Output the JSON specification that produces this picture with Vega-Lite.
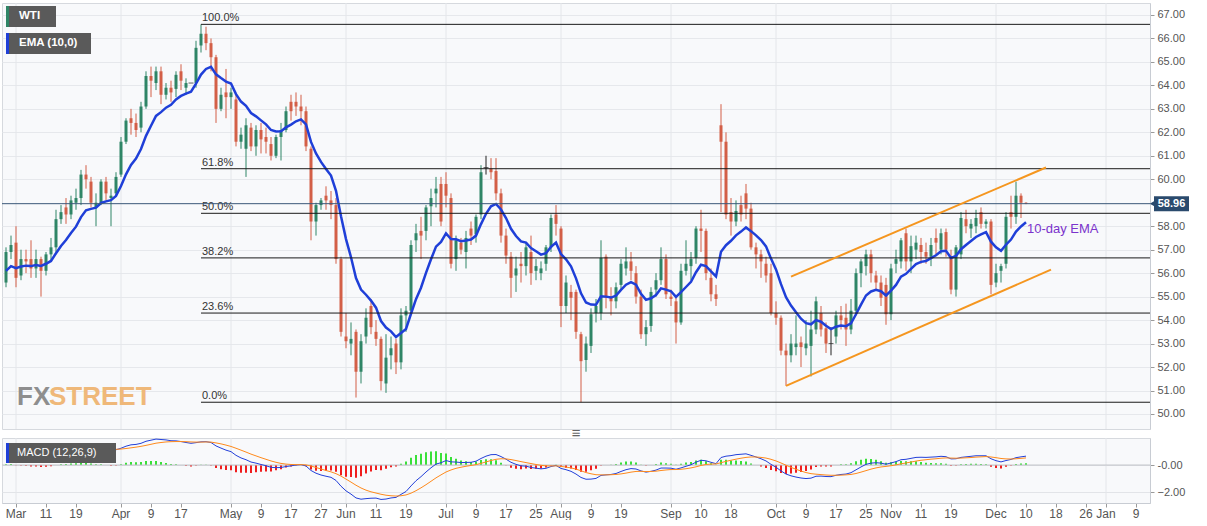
{
"$schema":"https://vega.github.io/schema/vega-lite/v6.json",
"padding":{"top":2,"left":0,"right":0,"bottom":0},
"background":"#ffffff",
"spacing":9,
"bounds":"flush",
"config":{"font":"Liberation Sans","view":{"stroke":"#d6d9de","fill":"#f8f9fb"},"axis":{"labelFont":"Liberation Sans","labelOverlap":false}},
"datasets":{
"p":[
{"d":"2019-02-27","o":55.6,"h":57.1,"l":55.4,"c":56.9,"e":56.1,"m":1.1,"s":1.05,"hi":0.05},
{"d":"2019-02-28","o":56.9,"h":57.6,"l":56.6,"c":57.2,"e":56.3,"m":1.14,"s":1.07,"hi":0.07},
{"d":"2019-03-01","o":57.3,"h":58.0,"l":55.4,"c":55.8,"e":56.21,"m":1.05,"s":1.07,"hi":-0.02},
{"d":"2019-03-04","o":55.9,"h":57.0,"l":55.7,"c":56.6,"e":56.28,"m":1.03,"s":1.06,"hi":-0.03},
{"d":"2019-03-05","o":56.6,"h":57.0,"l":56.0,"c":56.5,"e":56.32,"m":0.99,"s":1.05,"hi":-0.06},
{"d":"2019-03-06","o":56.6,"h":57.4,"l":55.8,"c":56.2,"e":56.3,"m":0.93,"s":1.03,"hi":-0.1},
{"d":"2019-03-07","o":56.2,"h":57.0,"l":55.8,"c":56.6,"e":56.35,"m":0.9,"s":1.0,"hi":-0.1},
{"d":"2019-03-08","o":56.6,"h":56.7,"l":55.0,"c":56.1,"e":56.31,"m":0.83,"s":0.97,"hi":-0.14},
{"d":"2019-03-11","o":56.1,"h":56.9,"l":55.9,"c":56.8,"e":56.4,"m":0.82,"s":0.94,"hi":-0.12},
{"d":"2019-03-12","o":56.8,"h":57.5,"l":56.5,"c":57.1,"e":56.52,"m":0.83,"s":0.92,"hi":-0.09},
{"d":"2019-03-13","o":57.1,"h":58.7,"l":56.9,"c":58.3,"e":56.85,"m":0.92,"s":0.92,"hi":0},
{"d":"2019-03-14","o":58.3,"h":58.9,"l":58.1,"c":58.6,"e":57.16,"m":1.0,"s":0.94,"hi":0.06},
{"d":"2019-03-15","o":58.8,"h":59.2,"l":58.1,"c":58.5,"e":57.41,"m":1.04,"s":0.96,"hi":0.08},
{"d":"2019-03-18","o":58.5,"h":59.3,"l":58.3,"c":59.1,"e":57.71,"m":1.11,"s":0.99,"hi":0.12},
{"d":"2019-03-19","o":59.0,"h":59.6,"l":58.7,"c":59.2,"e":57.98,"m":1.16,"s":1.02,"hi":0.14},
{"d":"2019-03-20","o":59.2,"h":60.4,"l":58.9,"c":60.2,"e":58.39,"m":1.26,"s":1.07,"hi":0.19},
{"d":"2019-03-21","o":60.2,"h":60.6,"l":59.6,"c":60.0,"e":58.68,"m":1.32,"s":1.12,"hi":0.2},
{"d":"2019-03-22","o":59.9,"h":60.1,"l":58.8,"c":59.0,"e":58.74,"m":1.27,"s":1.15,"hi":0.12},
{"d":"2019-03-25","o":58.8,"h":59.4,"l":58.0,"c":59.0,"e":58.79,"m":1.21,"s":1.16,"hi":0.05},
{"d":"2019-03-26","o":59.0,"h":60.0,"l":58.9,"c":59.9,"e":58.99,"m":1.22,"s":1.17,"hi":0.05},
{"d":"2019-03-27","o":59.9,"h":60.1,"l":59.1,"c":59.4,"e":59.06,"m":1.17,"s":1.17,"hi":0},
{"d":"2019-03-28","o":59.2,"h":59.6,"l":58.0,"c":59.3,"e":59.11,"m":1.11,"s":1.16,"hi":-0.05},
{"d":"2019-03-29","o":59.4,"h":60.3,"l":59.3,"c":60.1,"e":59.29,"m":1.12,"s":1.15,"hi":-0.03},
{"d":"2019-04-01","o":60.2,"h":61.8,"l":60.1,"c":61.6,"e":59.71,"m":1.23,"s":1.17,"hi":0.06},
{"d":"2019-04-02","o":61.6,"h":62.6,"l":61.5,"c":62.5,"e":60.21,"m":1.38,"s":1.21,"hi":0.17},
{"d":"2019-04-03","o":62.6,"h":63.0,"l":61.9,"c":62.4,"e":60.61,"m":1.48,"s":1.26,"hi":0.22},
{"d":"2019-04-04","o":62.4,"h":62.8,"l":61.8,"c":62.1,"e":60.88,"m":1.51,"s":1.31,"hi":0.2},
{"d":"2019-04-05","o":62.2,"h":63.3,"l":62.0,"c":63.1,"e":61.29,"m":1.59,"s":1.37,"hi":0.22},
{"d":"2019-04-08","o":63.1,"h":64.6,"l":63.0,"c":64.4,"e":61.85,"m":1.74,"s":1.44,"hi":0.3},
{"d":"2019-04-09","o":64.4,"h":64.8,"l":63.5,"c":64.2,"e":62.28,"m":1.82,"s":1.52,"hi":0.3},
{"d":"2019-04-10","o":64.1,"h":64.8,"l":63.8,"c":64.6,"e":62.7,"m":1.9,"s":1.6,"hi":0.3},
{"d":"2019-04-11","o":64.6,"h":64.8,"l":63.2,"c":63.6,"e":62.86,"m":1.87,"s":1.65,"hi":0.22},
{"d":"2019-04-12","o":63.6,"h":64.1,"l":63.4,"c":63.9,"e":63.05,"m":1.84,"s":1.69,"hi":0.15},
{"d":"2019-04-15","o":63.9,"h":64.2,"l":63.3,"c":63.7,"e":63.17,"m":1.78,"s":1.71,"hi":0.07},
{"d":"2019-04-16","o":63.85,"h":64.6,"l":63.5,"c":64.45,"e":63.4,"m":1.77,"s":1.72,"hi":0.05},
{"d":"2019-04-17","o":64.6,"h":64.9,"l":63.8,"c":64.2,"e":63.55,"m":1.72,"s":1.72,"hi":0},
{"d":"2019-04-18","o":63.9,"h":64.3,"l":63.6,"c":64.1,"e":63.65,"m":1.65,"s":1.71,"hi":-0.06},
{"d":"2019-04-19","o":64.1,"h":64.1,"l":64.1,"c":64.1,"e":63.73,"m":1.59,"s":1.69,"hi":-0.1},
{"d":"2019-04-22","o":64.1,"h":65.9,"l":63.9,"c":65.6,"e":64.07,"m":1.64,"s":1.68,"hi":-0.04},
{"d":"2019-04-23","o":65.7,"h":66.6,"l":65.4,"c":66.2,"e":64.46,"m":1.7,"s":1.68,"hi":0.02},
{"d":"2019-04-24","o":66.2,"h":66.5,"l":65.5,"c":65.8,"e":64.7,"m":1.71,"s":1.69,"hi":0.02},
{"d":"2019-04-25","o":65.8,"h":66.0,"l":64.6,"c":65.2,"e":64.79,"m":1.65,"s":1.68,"hi":-0.03},
{"d":"2019-04-26","o":65.2,"h":65.3,"l":62.4,"c":63.0,"e":64.47,"m":1.4,"s":1.62,"hi":-0.22},
{"d":"2019-04-29","o":63.0,"h":63.9,"l":62.9,"c":63.6,"e":64.31,"m":1.24,"s":1.55,"hi":-0.31},
{"d":"2019-04-30","o":63.7,"h":64.7,"l":62.6,"c":63.5,"e":64.16,"m":1.09,"s":1.46,"hi":-0.37},
{"d":"2019-05-01","o":63.5,"h":63.9,"l":63.0,"c":63.7,"e":64.08,"m":0.98,"s":1.36,"hi":-0.38},
{"d":"2019-05-02","o":63.4,"h":63.6,"l":61.4,"c":61.6,"e":63.63,"m":0.71,"s":1.23,"hi":-0.52},
{"d":"2019-05-03","o":61.6,"h":62.2,"l":61.3,"c":61.9,"e":63.31,"m":0.52,"s":1.09,"hi":-0.57},
{"d":"2019-05-06","o":61.3,"h":62.6,"l":60.1,"c":62.3,"e":63.13,"m":0.39,"s":0.95,"hi":-0.56},
{"d":"2019-05-07","o":62.2,"h":62.4,"l":61.2,"c":61.4,"e":62.82,"m":0.22,"s":0.8,"hi":-0.58},
{"d":"2019-05-08","o":61.4,"h":62.3,"l":61.0,"c":62.1,"e":62.68,"m":0.14,"s":0.67,"hi":-0.53},
{"d":"2019-05-09","o":62.1,"h":62.4,"l":61.1,"c":61.7,"e":62.51,"m":0.04,"s":0.54,"hi":-0.5},
{"d":"2019-05-10","o":61.8,"h":62.2,"l":61.1,"c":61.6,"e":62.34,"m":-0.05,"s":0.42,"hi":-0.47},
{"d":"2019-05-13","o":61.5,"h":61.8,"l":60.8,"c":61.0,"e":62.1,"m":-0.17,"s":0.3,"hi":-0.47},
{"d":"2019-05-14","o":61.0,"h":61.9,"l":60.9,"c":61.8,"e":62.04,"m":-0.19,"s":0.2,"hi":-0.39},
{"d":"2019-05-15","o":61.8,"h":62.4,"l":60.8,"c":62.1,"e":62.05,"m":-0.18,"s":0.12,"hi":-0.3},
{"d":"2019-05-16","o":62.1,"h":63.1,"l":62.0,"c":62.9,"e":62.21,"m":-0.11,"s":0.07,"hi":-0.18},
{"d":"2019-05-17","o":63.3,"h":63.6,"l":62.5,"c":62.9,"e":62.33,"m":-0.06,"s":0.04,"hi":-0.1},
{"d":"2019-05-20","o":63.3,"h":63.7,"l":62.7,"c":63.1,"e":62.47,"m":0,"s":0.03,"hi":-0.03},
{"d":"2019-05-21","o":63.1,"h":63.6,"l":62.3,"c":62.9,"e":62.55,"m":0.03,"s":0.03,"hi":0},
{"d":"2019-05-22","o":62.9,"h":63.1,"l":61.2,"c":61.4,"e":62.34,"m":-0.07,"s":0.01,"hi":-0.08},
{"d":"2019-05-23","o":61.3,"h":61.4,"l":57.4,"c":58.2,"e":61.59,"m":-0.4,"s":-0.07,"hi":-0.33},
{"d":"2019-05-24","o":58.2,"h":59.0,"l":57.6,"c":58.9,"e":61.1,"m":-0.6,"s":-0.18,"hi":-0.42},
{"d":"2019-05-27","o":58.9,"h":59.2,"l":58.7,"c":59.1,"e":60.74,"m":-0.73,"s":-0.29,"hi":-0.44},
{"d":"2019-05-28","o":59.3,"h":59.7,"l":58.7,"c":59.1,"e":60.44,"m":-0.82,"s":-0.4,"hi":-0.42},
{"d":"2019-05-29","o":59.1,"h":59.5,"l":58.3,"c":58.9,"e":60.16,"m":-0.9,"s":-0.5,"hi":-0.4},
{"d":"2019-05-30","o":58.9,"h":59.2,"l":56.4,"c":56.6,"e":59.51,"m":-1.13,"s":-0.63,"hi":-0.5},
{"d":"2019-05-31","o":56.6,"h":56.7,"l":53.3,"c":53.5,"e":58.42,"m":-1.55,"s":-0.81,"hi":-0.74},
{"d":"2019-06-03","o":53.3,"h":54.3,"l":52.8,"c":53.1,"e":57.45,"m":-1.89,"s":-1.03,"hi":-0.86},
{"d":"2019-06-04","o":53.0,"h":53.9,"l":52.5,"c":53.2,"e":56.68,"m":-2.13,"s":-1.25,"hi":-0.88},
{"d":"2019-06-05","o":53.5,"h":53.6,"l":50.7,"c":51.8,"e":55.79,"m":-2.41,"s":-1.48,"hi":-0.93},
{"d":"2019-06-06","o":51.8,"h":53.4,"l":51.3,"c":53.1,"e":55.3,"m":-2.5,"s":-1.68,"hi":-0.82},
{"d":"2019-06-07","o":53.3,"h":54.5,"l":53.0,"c":54.1,"e":55.08,"m":-2.46,"s":-1.84,"hi":-0.62},
{"d":"2019-06-10","o":54.6,"h":54.9,"l":53.4,"c":53.7,"e":54.83,"m":-2.43,"s":-1.96,"hi":-0.47},
{"d":"2019-06-11","o":53.5,"h":54.0,"l":52.9,"c":53.2,"e":54.53,"m":-2.42,"s":-2.05,"hi":-0.37},
{"d":"2019-06-12","o":53.2,"h":53.3,"l":51.0,"c":51.4,"e":53.96,"m":-2.52,"s":-2.14,"hi":-0.38},
{"d":"2019-06-13","o":51.3,"h":53.4,"l":50.9,"c":52.4,"e":53.68,"m":-2.49,"s":-2.21,"hi":-0.28},
{"d":"2019-06-14","o":52.5,"h":53.3,"l":51.9,"c":52.8,"e":53.52,"m":-2.41,"s":-2.25,"hi":-0.16},
{"d":"2019-06-17","o":53.0,"h":53.2,"l":51.7,"c":52.2,"e":53.28,"m":-2.37,"s":-2.27,"hi":-0.1},
{"d":"2019-06-18","o":52.2,"h":54.5,"l":51.9,"c":54.2,"e":53.45,"m":-2.15,"s":-2.25,"hi":0.1},
{"d":"2019-06-19","o":54.2,"h":54.6,"l":53.5,"c":54.4,"e":53.62,"m":-1.94,"s":-2.19,"hi":0.25},
{"d":"2019-06-20","o":54.4,"h":57.4,"l":54.3,"c":57.2,"e":54.27,"m":-1.53,"s":-2.06,"hi":0.53},
{"d":"2019-06-21","o":57.4,"h":58.1,"l":56.9,"c":57.7,"e":54.89,"m":-1.15,"s":-1.88,"hi":0.73},
{"d":"2019-06-24","o":57.8,"h":58.4,"l":56.6,"c":57.6,"e":55.38,"m":-0.85,"s":-1.67,"hi":0.82},
{"d":"2019-06-25","o":57.8,"h":58.9,"l":57.4,"c":58.8,"e":56.01,"m":-0.51,"s":-1.44,"hi":0.93},
{"d":"2019-06-26","o":58.85,"h":59.6,"l":58.0,"c":59.2,"e":56.59,"m":-0.2,"s":-1.19,"hi":0.99},
{"d":"2019-06-27","o":59.4,"h":60.1,"l":58.8,"c":59.6,"e":57.13,"m":0.07,"s":-0.94,"hi":1.01},
{"d":"2019-06-28","o":59.8,"h":60.1,"l":58.0,"c":58.2,"e":57.33,"m":0.17,"s":-0.72,"hi":0.89},
{"d":"2019-07-01","o":59.8,"h":60.3,"l":58.8,"c":59.3,"e":57.69,"m":0.33,"s":-0.51,"hi":0.84},
{"d":"2019-07-02","o":59.2,"h":59.4,"l":56.2,"c":56.4,"e":57.45,"m":0.23,"s":-0.36,"hi":0.59},
{"d":"2019-07-03","o":56.6,"h":57.6,"l":56.1,"c":57.4,"e":57.44,"m":0.22,"s":-0.24,"hi":0.46},
{"d":"2019-07-04","o":57.3,"h":57.5,"l":56.8,"c":57.0,"e":57.36,"m":0.18,"s":-0.16,"hi":0.34},
{"d":"2019-07-05","o":56.9,"h":57.8,"l":56.2,"c":57.5,"e":57.39,"m":0.19,"s":-0.09,"hi":0.28},
{"d":"2019-07-08","o":57.9,"h":58.2,"l":57.2,"c":57.6,"e":57.43,"m":0.2,"s":-0.03,"hi":0.23},
{"d":"2019-07-09","o":57.65,"h":58.5,"l":57.3,"c":58.4,"e":57.6,"m":0.28,"s":0.03,"hi":0.25},
{"d":"2019-07-10","o":58.5,"h":60.6,"l":58.3,"c":60.3,"e":58.09,"m":0.48,"s":0.12,"hi":0.36},
{"d":"2019-07-11","o":60.5,"h":61.0,"l":60.2,"c":60.5,"e":58.53,"m":0.65,"s":0.23,"hi":0.42},
{"d":"2019-07-12","o":60.45,"h":60.9,"l":60.0,"c":60.3,"e":58.85,"m":0.76,"s":0.33,"hi":0.43},
{"d":"2019-07-15","o":60.35,"h":60.9,"l":59.1,"c":59.4,"e":58.95,"m":0.77,"s":0.42,"hi":0.35},
{"d":"2019-07-16","o":59.4,"h":59.6,"l":57.3,"c":57.6,"e":58.71,"m":0.62,"s":0.46,"hi":0.16},
{"d":"2019-07-17","o":57.6,"h":57.9,"l":56.4,"c":56.75,"e":58.35,"m":0.43,"s":0.45,"hi":-0.02},
{"d":"2019-07-18","o":56.7,"h":56.9,"l":54.95,"c":55.8,"e":57.89,"m":0.2,"s":0.4,"hi":-0.2},
{"d":"2019-07-19","o":55.9,"h":56.7,"l":55.2,"c":56.2,"e":57.58,"m":0.05,"s":0.33,"hi":-0.28},
{"d":"2019-07-22","o":56.4,"h":56.9,"l":55.6,"c":56.3,"e":57.35,"m":-0.06,"s":0.25,"hi":-0.31},
{"d":"2019-07-23","o":56.3,"h":57.3,"l":55.9,"c":57.1,"e":57.3,"m":-0.08,"s":0.18,"hi":-0.26},
{"d":"2019-07-24","o":56.9,"h":57.6,"l":55.5,"c":56.0,"e":57.07,"m":-0.18,"s":0.11,"hi":-0.29},
{"d":"2019-07-25","o":56.1,"h":56.6,"l":55.7,"c":56.3,"e":56.93,"m":-0.23,"s":0.04,"hi":-0.27},
{"d":"2019-07-26","o":56.0,"h":56.5,"l":55.7,"c":56.2,"e":56.79,"m":-0.28,"s":-0.02,"hi":-0.26},
{"d":"2019-07-29","o":56.4,"h":57.2,"l":56.1,"c":57.1,"e":56.85,"m":-0.24,"s":-0.06,"hi":-0.18},
{"d":"2019-07-30","o":57.1,"h":58.5,"l":56.9,"c":58.35,"e":57.12,"m":-0.11,"s":-0.07,"hi":-0.04},
{"d":"2019-07-31","o":58.5,"h":58.9,"l":57.6,"c":58.1,"e":57.3,"m":-0.03,"s":-0.06,"hi":0.03},
{"d":"2019-08-01","o":57.9,"h":58.0,"l":53.7,"c":54.6,"e":56.81,"m":-0.25,"s":-0.1,"hi":-0.15},
{"d":"2019-08-02","o":54.6,"h":55.9,"l":54.3,"c":55.6,"e":56.59,"m":-0.34,"s":-0.15,"hi":-0.19},
{"d":"2019-08-05","o":55.2,"h":55.5,"l":54.0,"c":54.95,"e":56.29,"m":-0.46,"s":-0.21,"hi":-0.25},
{"d":"2019-08-06","o":55.2,"h":55.3,"l":53.2,"c":53.5,"e":55.78,"m":-0.66,"s":-0.3,"hi":-0.36},
{"d":"2019-08-07","o":53.4,"h":53.5,"l":50.5,"c":52.25,"e":55.14,"m":-0.91,"s":-0.42,"hi":-0.49},
{"d":"2019-08-08","o":52.3,"h":53.3,"l":51.8,"c":53.0,"e":54.75,"m":-1.04,"s":-0.55,"hi":-0.49},
{"d":"2019-08-09","o":52.9,"h":54.5,"l":52.6,"c":54.25,"e":54.66,"m":-1.03,"s":-0.64,"hi":-0.39},
{"d":"2019-08-12","o":54.3,"h":54.9,"l":53.9,"c":54.6,"e":54.65,"m":-0.98,"s":-0.71,"hi":-0.27},
{"d":"2019-08-13","o":54.3,"h":57.4,"l":54.0,"c":56.65,"e":55.01,"m":-0.76,"s":-0.72,"hi":-0.04},
{"d":"2019-08-14","o":56.7,"h":56.8,"l":54.5,"c":54.95,"e":55.0,"m":-0.72,"s":-0.72,"hi":0},
{"d":"2019-08-15","o":55.0,"h":55.4,"l":54.2,"c":54.8,"e":54.96,"m":-0.69,"s":-0.71,"hi":0.02},
{"d":"2019-08-16","o":54.8,"h":55.6,"l":54.5,"c":55.4,"e":55.04,"m":-0.62,"s":-0.69,"hi":0.07},
{"d":"2019-08-19","o":55.5,"h":56.6,"l":55.3,"c":56.4,"e":55.29,"m":-0.47,"s":-0.65,"hi":0.18},
{"d":"2019-08-20","o":56.2,"h":57.1,"l":55.9,"c":56.5,"e":55.51,"m":-0.34,"s":-0.59,"hi":0.25},
{"d":"2019-08-21","o":56.5,"h":56.9,"l":55.7,"c":56.1,"e":55.62,"m":-0.26,"s":-0.52,"hi":0.26},
{"d":"2019-08-22","o":56.0,"h":56.3,"l":54.7,"c":55.0,"e":55.51,"m":-0.29,"s":-0.47,"hi":0.18},
{"d":"2019-08-23","o":55.0,"h":55.3,"l":53.2,"c":53.4,"e":55.12,"m":-0.43,"s":-0.46,"hi":0.03},
{"d":"2019-08-26","o":53.4,"h":54.0,"l":52.9,"c":53.7,"e":54.86,"m":-0.52,"s":-0.48,"hi":-0.04},
{"d":"2019-08-27","o":53.75,"h":55.4,"l":53.5,"c":55.2,"e":54.93,"m":-0.46,"s":-0.47,"hi":0.01},
{"d":"2019-08-28","o":55.3,"h":56.0,"l":55.0,"c":55.7,"e":55.07,"m":-0.37,"s":-0.45,"hi":0.08},
{"d":"2019-08-29","o":55.7,"h":57.1,"l":55.5,"c":56.6,"e":55.35,"m":-0.22,"s":-0.4,"hi":0.18},
{"d":"2019-08-30","o":56.6,"h":56.8,"l":54.9,"c":55.1,"e":55.3,"m":-0.22,"s":-0.36,"hi":0.14},
{"d":"2019-09-02","o":55.0,"h":55.3,"l":54.6,"c":54.9,"e":55.23,"m":-0.23,"s":-0.33,"hi":0.1},
{"d":"2019-09-03","o":54.8,"h":55.0,"l":53.0,"c":53.9,"e":54.99,"m":-0.31,"s":-0.33,"hi":0.02},
{"d":"2019-09-04","o":53.9,"h":56.4,"l":53.8,"c":56.1,"e":55.19,"m":-0.21,"s":-0.31,"hi":0.1},
{"d":"2019-09-05","o":56.1,"h":57.4,"l":55.9,"c":56.4,"e":55.41,"m":-0.09,"s":-0.27,"hi":0.18},
{"d":"2019-09-06","o":56.3,"h":56.9,"l":55.7,"c":56.6,"e":55.63,"m":0.02,"s":-0.21,"hi":0.23},
{"d":"2019-09-09","o":56.65,"h":58.0,"l":56.4,"c":57.9,"e":56.04,"m":0.21,"s":-0.13,"hi":0.34},
{"d":"2019-09-10","o":57.9,"h":58.7,"l":56.9,"c":57.8,"e":56.36,"m":0.35,"s":-0.03,"hi":0.38},
{"d":"2019-09-11","o":57.8,"h":57.9,"l":55.7,"c":56.0,"e":56.3,"m":0.31,"s":0.04,"hi":0.27},
{"d":"2019-09-12","o":55.8,"h":56.2,"l":54.8,"c":55.1,"e":56.08,"m":0.2,"s":0.07,"hi":0.13},
{"d":"2019-09-13","o":55.1,"h":55.5,"l":54.6,"c":54.9,"e":55.86,"m":0.1,"s":0.08,"hi":0.02},
{"d":"2019-09-16","o":62.3,"h":63.2,"l":58.6,"c":61.6,"e":56.91,"m":0.55,"s":0.17,"hi":0.38},
{"d":"2019-09-17","o":61.6,"h":62.0,"l":58.3,"c":58.5,"e":57.19,"m":0.65,"s":0.27,"hi":0.38},
{"d":"2019-09-18","o":58.6,"h":59.2,"l":57.6,"c":58.2,"e":57.38,"m":0.69,"s":0.35,"hi":0.34},
{"d":"2019-09-19","o":58.2,"h":59.1,"l":58.0,"c":58.65,"e":57.61,"m":0.76,"s":0.43,"hi":0.33},
{"d":"2019-09-20","o":58.9,"h":59.3,"l":58.2,"c":58.5,"e":57.77,"m":0.79,"s":0.5,"hi":0.29},
{"d":"2019-09-23","o":59.4,"h":59.8,"l":58.3,"c":58.75,"e":57.95,"m":0.82,"s":0.56,"hi":0.26},
{"d":"2019-09-24","o":58.75,"h":59.0,"l":57.0,"c":57.1,"e":57.79,"m":0.71,"s":0.59,"hi":0.12},
{"d":"2019-09-25","o":57.1,"h":57.3,"l":56.2,"c":56.8,"e":57.61,"m":0.59,"s":0.59,"hi":0},
{"d":"2019-09-26","o":56.8,"h":57.0,"l":55.8,"c":56.5,"e":57.41,"m":0.46,"s":0.56,"hi":-0.1},
{"d":"2019-09-27","o":56.4,"h":56.7,"l":55.6,"c":55.9,"e":57.14,"m":0.3,"s":0.51,"hi":-0.21},
{"d":"2019-09-30","o":56.0,"h":56.4,"l":54.2,"c":54.3,"e":56.62,"m":0.05,"s":0.42,"hi":-0.37},
{"d":"2019-10-01","o":54.3,"h":54.8,"l":53.8,"c":54.1,"e":56.16,"m":-0.16,"s":0.3,"hi":-0.46},
{"d":"2019-10-02","o":54.1,"h":54.2,"l":52.5,"c":52.7,"e":55.53,"m":-0.43,"s":0.15,"hi":-0.58},
{"d":"2019-10-03","o":52.7,"h":53.0,"l":51.2,"c":52.5,"e":54.98,"m":-0.66,"s":-0.01,"hi":-0.65},
{"d":"2019-10-04","o":52.5,"h":53.4,"l":52.2,"c":53.0,"e":54.62,"m":-0.79,"s":-0.17,"hi":-0.62},
{"d":"2019-10-07","o":52.85,"h":54.2,"l":52.5,"c":53.0,"e":54.33,"m":-0.88,"s":-0.31,"hi":-0.57},
{"d":"2019-10-08","o":53.05,"h":53.3,"l":52.0,"c":52.85,"e":54.06,"m":-0.95,"s":-0.44,"hi":-0.51},
{"d":"2019-10-09","o":52.8,"h":54.0,"l":52.5,"c":53.0,"e":53.87,"m":-0.99,"s":-0.55,"hi":-0.44},
{"d":"2019-10-10","o":52.9,"h":54.4,"l":51.6,"c":53.6,"e":53.82,"m":-0.96,"s":-0.63,"hi":-0.33},
{"d":"2019-10-11","o":53.6,"h":55.0,"l":53.4,"c":54.8,"e":54.0,"m":-0.82,"s":-0.67,"hi":-0.15},
{"d":"2019-10-14","o":54.3,"h":54.6,"l":53.3,"c":53.6,"e":53.93,"m":-0.81,"s":-0.7,"hi":-0.11},
{"d":"2019-10-15","o":53.65,"h":53.9,"l":52.6,"c":53.0,"e":53.76,"m":-0.84,"s":-0.73,"hi":-0.11},
{"d":"2019-10-16","o":53.0,"h":53.7,"l":52.5,"c":53.0,"e":53.62,"m":-0.85,"s":-0.75,"hi":-0.1},
{"d":"2019-10-17","o":53.3,"h":54.4,"l":53.0,"c":54.2,"e":53.72,"m":-0.75,"s":-0.75,"hi":0},
{"d":"2019-10-18","o":54.2,"h":54.6,"l":53.6,"c":54.0,"e":53.77,"m":-0.69,"s":-0.74,"hi":0.05},
{"d":"2019-10-21","o":54.1,"h":54.7,"l":52.9,"c":53.6,"e":53.74,"m":-0.66,"s":-0.72,"hi":0.06},
{"d":"2019-10-22","o":53.6,"h":54.9,"l":53.4,"c":54.4,"e":53.86,"m":-0.56,"s":-0.69,"hi":0.13},
{"d":"2019-10-23","o":54.4,"h":56.2,"l":54.2,"c":56.0,"e":54.25,"m":-0.35,"s":-0.62,"hi":0.27},
{"d":"2019-10-24","o":56.0,"h":56.6,"l":55.4,"c":56.5,"e":54.66,"m":-0.14,"s":-0.52,"hi":0.38},
{"d":"2019-10-25","o":56.3,"h":57.0,"l":55.9,"c":56.8,"e":55.05,"m":0.05,"s":-0.41,"hi":0.46},
{"d":"2019-10-28","o":56.8,"h":57.0,"l":55.6,"c":56.0,"e":55.22,"m":0.14,"s":-0.3,"hi":0.44},
{"d":"2019-10-29","o":55.9,"h":56.1,"l":55.3,"c":55.6,"e":55.29,"m":0.17,"s":-0.21,"hi":0.38},
{"d":"2019-10-30","o":55.6,"h":55.9,"l":54.6,"c":54.95,"e":55.23,"m":0.14,"s":-0.14,"hi":0.28},
{"d":"2019-10-31","o":55.5,"h":55.8,"l":53.8,"c":54.25,"e":55.05,"m":0.06,"s":-0.1,"hi":0.16},
{"d":"2019-11-01","o":54.25,"h":56.4,"l":54.0,"c":56.2,"e":55.26,"m":0.15,"s":-0.05,"hi":0.2},
{"d":"2019-11-04","o":56.4,"h":57.0,"l":56.0,"c":56.6,"e":55.5,"m":0.25,"s":0.01,"hi":0.24},
{"d":"2019-11-05","o":56.5,"h":57.5,"l":56.2,"c":57.4,"e":55.85,"m":0.39,"s":0.09,"hi":0.3},
{"d":"2019-11-06","o":57.7,"h":57.9,"l":56.1,"c":56.5,"e":55.97,"m":0.42,"s":0.15,"hi":0.27},
{"d":"2019-11-07","o":56.5,"h":57.6,"l":56.0,"c":57.15,"e":56.18,"m":0.49,"s":0.22,"hi":0.27},
{"d":"2019-11-08","o":57.0,"h":57.6,"l":56.6,"c":57.3,"e":56.39,"m":0.56,"s":0.29,"hi":0.27},
{"d":"2019-11-11","o":57.2,"h":57.5,"l":56.4,"c":56.9,"e":56.48,"m":0.57,"s":0.35,"hi":0.22},
{"d":"2019-11-12","o":56.9,"h":57.3,"l":56.4,"c":56.7,"e":56.52,"m":0.56,"s":0.39,"hi":0.17},
{"d":"2019-11-13","o":56.7,"h":57.5,"l":56.3,"c":57.2,"e":56.64,"m":0.58,"s":0.43,"hi":0.15},
{"d":"2019-11-14","o":57.5,"h":57.9,"l":56.8,"c":57.3,"e":56.76,"m":0.6,"s":0.46,"hi":0.14},
{"d":"2019-11-15","o":57.0,"h":57.9,"l":56.8,"c":57.7,"e":56.93,"m":0.64,"s":0.5,"hi":0.14},
{"d":"2019-11-18","o":57.75,"h":57.9,"l":56.7,"c":57.0,"e":56.95,"m":0.61,"s":0.52,"hi":0.09},
{"d":"2019-11-19","o":56.7,"h":57.0,"l":55.1,"c":55.3,"e":56.65,"m":0.45,"s":0.51,"hi":-0.06},
{"d":"2019-11-20","o":55.3,"h":57.2,"l":55.0,"c":57.1,"e":56.73,"m":0.46,"s":0.5,"hi":-0.04},
{"d":"2019-11-21","o":56.8,"h":58.6,"l":56.6,"c":58.35,"e":57.02,"m":0.56,"s":0.51,"hi":0.05},
{"d":"2019-11-22","o":58.3,"h":58.7,"l":57.7,"c":58.0,"e":57.2,"m":0.6,"s":0.53,"hi":0.07},
{"d":"2019-11-25","o":57.9,"h":58.3,"l":57.5,"c":58.1,"e":57.37,"m":0.64,"s":0.55,"hi":0.09},
{"d":"2019-11-26","o":58.0,"h":58.7,"l":57.7,"c":58.35,"e":57.54,"m":0.68,"s":0.58,"hi":0.1},
{"d":"2019-11-27","o":58.6,"h":58.8,"l":57.9,"c":58.1,"e":57.65,"m":0.68,"s":0.6,"hi":0.08},
{"d":"2019-11-28","o":58.1,"h":58.3,"l":57.9,"c":58.2,"e":57.75,"m":0.68,"s":0.62,"hi":0.06},
{"d":"2019-11-29","o":58.2,"h":58.3,"l":55.1,"c":55.5,"e":57.34,"m":0.46,"s":0.59,"hi":-0.13},
{"d":"2019-12-02","o":55.6,"h":56.4,"l":55.4,"c":56.0,"e":57.1,"m":0.32,"s":0.54,"hi":-0.22},
{"d":"2019-12-03","o":56.1,"h":56.4,"l":55.6,"c":56.3,"e":56.95,"m":0.23,"s":0.48,"hi":-0.25},
{"d":"2019-12-04","o":56.4,"h":58.6,"l":56.2,"c":58.4,"e":57.21,"m":0.33,"s":0.45,"hi":-0.12},
{"d":"2019-12-05","o":58.6,"h":59.3,"l":57.9,"c":58.4,"e":57.43,"m":0.41,"s":0.44,"hi":-0.03},
{"d":"2019-12-06","o":58.4,"h":59.9,"l":58.1,"c":59.3,"e":57.77,"m":0.54,"s":0.46,"hi":0.08},
{"d":"2019-12-09","o":59.3,"h":59.4,"l":58.35,"c":59.0,"e":57.99,"m":0.6,"s":0.49,"hi":0.11},
{"d":"2019-12-10","o":59.0,"h":59.02,"l":58.94,"c":58.96,"e":58.17,"m":0.65,"s":0.52,"hi":0.13}
],
"fib":[
{"d":"2019-04-23","p":66.6,"lv":"100.0%"},
{"d":"2019-04-23","p":60.45,"lv":"61.8%"},
{"d":"2019-04-23","p":58.55,"lv":"50.0%"},
{"d":"2019-04-23","p":56.65,"lv":"38.2%"},
{"d":"2019-04-23","p":54.3,"lv":"23.6%"},
{"d":"2019-04-23","p":50.5,"lv":"0.0%"}
],
"ch":[
{"d":"2019-10-04","p":55.85,"g":"upper"},
{"d":"2019-12-16","p":60.5,"g":"upper"},
{"d":"2019-10-03","p":51.2,"g":"lower"},
{"d":"2019-12-17","p":56.15,"g":"lower"}
],
"months":[
{"d":"2019-03-01"},{"d":"2019-04-01"},{"d":"2019-05-01"},{"d":"2019-06-03"},{"d":"2019-07-01"},{"d":"2019-08-01"},{"d":"2019-09-02"},{"d":"2019-10-01"},{"d":"2019-11-01"},{"d":"2019-12-02"},{"d":"2020-01-01"}
]
},
"vconcat":[
{
"width":1148,"height":426,
"encoding":{"x":{"field":"d","type":"ordinal","title":null,"axis":null,
"scale":{"paddingInner":0.4,"paddingOuter":0.5,"domain":["2019-02-27","2019-02-28","2019-03-01","2019-03-04","2019-03-05","2019-03-06","2019-03-07","2019-03-08","2019-03-11","2019-03-12","2019-03-13","2019-03-14","2019-03-15","2019-03-18","2019-03-19","2019-03-20","2019-03-21","2019-03-22","2019-03-25","2019-03-26","2019-03-27","2019-03-28","2019-03-29","2019-04-01","2019-04-02","2019-04-03","2019-04-04","2019-04-05","2019-04-08","2019-04-09","2019-04-10","2019-04-11","2019-04-12","2019-04-15","2019-04-16","2019-04-17","2019-04-18","2019-04-19","2019-04-22","2019-04-23","2019-04-24","2019-04-25","2019-04-26","2019-04-29","2019-04-30","2019-05-01","2019-05-02","2019-05-03","2019-05-06","2019-05-07","2019-05-08","2019-05-09","2019-05-10","2019-05-13","2019-05-14","2019-05-15","2019-05-16","2019-05-17","2019-05-20","2019-05-21","2019-05-22","2019-05-23","2019-05-24","2019-05-27","2019-05-28","2019-05-29","2019-05-30","2019-05-31","2019-06-03","2019-06-04","2019-06-05","2019-06-06","2019-06-07","2019-06-10","2019-06-11","2019-06-12","2019-06-13","2019-06-14","2019-06-17","2019-06-18","2019-06-19","2019-06-20","2019-06-21","2019-06-24","2019-06-25","2019-06-26","2019-06-27","2019-06-28","2019-07-01","2019-07-02","2019-07-03","2019-07-04","2019-07-05","2019-07-08","2019-07-09","2019-07-10","2019-07-11","2019-07-12","2019-07-15","2019-07-16","2019-07-17","2019-07-18","2019-07-19","2019-07-22","2019-07-23","2019-07-24","2019-07-25","2019-07-26","2019-07-29","2019-07-30","2019-07-31","2019-08-01","2019-08-02","2019-08-05","2019-08-06","2019-08-07","2019-08-08","2019-08-09","2019-08-12","2019-08-13","2019-08-14","2019-08-15","2019-08-16","2019-08-19","2019-08-20","2019-08-21","2019-08-22","2019-08-23","2019-08-26","2019-08-27","2019-08-28","2019-08-29","2019-08-30","2019-09-02","2019-09-03","2019-09-04","2019-09-05","2019-09-06","2019-09-09","2019-09-10","2019-09-11","2019-09-12","2019-09-13","2019-09-16","2019-09-17","2019-09-18","2019-09-19","2019-09-20","2019-09-23","2019-09-24","2019-09-25","2019-09-26","2019-09-27","2019-09-30","2019-10-01","2019-10-02","2019-10-03","2019-10-04","2019-10-07","2019-10-08","2019-10-09","2019-10-10","2019-10-11","2019-10-14","2019-10-15","2019-10-16","2019-10-17","2019-10-18","2019-10-21","2019-10-22","2019-10-23","2019-10-24","2019-10-25","2019-10-28","2019-10-29","2019-10-30","2019-10-31","2019-11-01","2019-11-04","2019-11-05","2019-11-06","2019-11-07","2019-11-08","2019-11-11","2019-11-12","2019-11-13","2019-11-14","2019-11-15","2019-11-18","2019-11-19","2019-11-20","2019-11-21","2019-11-22","2019-11-25","2019-11-26","2019-11-27","2019-11-28","2019-11-29","2019-12-02","2019-12-03","2019-12-04","2019-12-05","2019-12-06","2019-12-09","2019-12-10","2019-12-11","2019-12-12","2019-12-13","2019-12-16","2019-12-17","2019-12-18","2019-12-19","2019-12-20","2019-12-23","2019-12-24","2019-12-25","2019-12-26","2019-12-27","2019-12-30","2019-12-31","2020-01-01","2020-01-02","2020-01-03","2020-01-06","2020-01-07","2020-01-08","2020-01-09","2020-01-10","2020-01-13"]}}},
"layer":[
{"data":{"name":"months"},"mark":{"type":"rule","color":"#e4e6ea","strokeWidth":1},"encoding":{}},
{"data":{"name":"p"},"mark":{"type":"rule","strokeWidth":1},
"encoding":{"y":{"field":"l","type":"quantitative","title":null,"scale":{"domain":[49.36,67.51],"nice":false,"zero":false},
"axis":{"orient":"right","values":[50,51,52,53,54,55,56,57,58,60,61,62,63,64,65,66,67],"tickCount":30,"format":".2f","labelOverlap":false,"grid":true,"gridColor":"#e6e8ec","tickSize":4,"tickColor":"#9a9a9a","labelPadding":3,"labelFontSize":11,"labelColor":"#555555","domainColor":"#c8ccd3","title":null}},
"y2":{"field":"h"},
"color":{"condition":[{"test":"datum.c > datum.o","value":"#2f8566"},{"test":"datum.c < datum.o","value":"#d35f47"}],"value":"#222222"}}},
{"data":{"name":"p"},"mark":{"type":"bar"},
"encoding":{"y":{"field":"o","type":"quantitative","title":null,"scale":{"domain":[49.36,67.51],"nice":false,"zero":false}},
"y2":{"field":"c"},
"color":{"condition":[{"test":"datum.c > datum.o","value":"#2f8566"},{"test":"datum.c < datum.o","value":"#d35f47"}],"value":"#222222"}}},
{"data":{"name":"p"},"transform":[{"filter":"datum.o == datum.c"}],"mark":{"type":"tick","thickness":1,"size":5,"color":"#222222"},
"encoding":{"y":{"field":"c","type":"quantitative","title":null,"scale":{"domain":[49.36,67.51],"nice":false,"zero":false}}}},
{"data":{"name":"p"},"mark":{"type":"line","strokeWidth":2.5,"color":"#1f3fd8"},
"encoding":{"y":{"field":"e","type":"quantitative","title":null,"scale":{"domain":[49.36,67.51],"nice":false,"zero":false}}}},
{"data":{"name":"fib"},"mark":{"type":"rule","color":"#1a1a1a","strokeWidth":1},
"encoding":{"y":{"field":"p","type":"quantitative","title":null,"scale":{"domain":[49.36,67.51],"nice":false,"zero":false}},"x2":{"value":"width"}}},
{"data":{"name":"fib"},"mark":{"type":"text","align":"left","baseline":"alphabetic","dx":1,"dy":-3,"fontSize":11,"color":"#333333"},
"encoding":{"y":{"field":"p","type":"quantitative","title":null,"scale":{"domain":[49.36,67.51],"nice":false,"zero":false}},"text":{"field":"lv"}}},
{"data":{"values":[{"p":58.96}]},"mark":{"type":"rule","color":"#3b5878","strokeWidth":1},
"encoding":{"x":{"value":0},"x2":{"value":"width"},"y":{"field":"p","type":"quantitative","title":null,"scale":{"domain":[49.36,67.51],"nice":false,"zero":false}}}},
{"data":{"name":"ch"},"mark":{"type":"line","color":"#f5961f","strokeWidth":2},
"encoding":{"y":{"field":"p","type":"quantitative","title":null,"scale":{"domain":[49.36,67.51],"nice":false,"zero":false}},"detail":{"field":"g"}}},
{"data":{"values":[{"d":"2019-12-11","p":57.88,"t":"10-day EMA"}]},"mark":{"type":"text","align":"left","baseline":"middle","dx":-4,"fontSize":13,"color":"#7b33cc"},
"encoding":{"y":{"field":"p","type":"quantitative","title":null,"scale":{"domain":[49.36,67.51],"nice":false,"zero":false}},"text":{"field":"t"}}},
{"data":{"values":[{"d":"2019-03-01","p":50.72,"t":"FX"}]},"mark":{"type":"text","align":"left","baseline":"middle","dx":1,"fontSize":26,"fontWeight":"bold","color":"#8e8e8e"},
"encoding":{"y":{"field":"p","type":"quantitative","title":null,"scale":{"domain":[49.36,67.51],"nice":false,"zero":false}},"text":{"field":"t"}}},
{"data":{"values":[{"d":"2019-03-11","p":50.72,"t":"STREET"}]},"mark":{"type":"text","align":"left","baseline":"middle","dx":3,"fontSize":26,"fontWeight":"bold","color":"#efb879"},
"encoding":{"y":{"field":"p","type":"quantitative","title":null,"scale":{"domain":[49.36,67.51],"nice":false,"zero":false}},"text":{"field":"t"}}},
{"data":{"values":[{"d":"2019-03-06","p1":67.38,"p2":66.49,"w":"a"}]},"mark":{"type":"bar","width":50,"color":"#5a5a5a"},
"encoding":{"y":{"field":"p1","type":"quantitative","title":null,"scale":{"domain":[49.36,67.51],"nice":false,"zero":false}},"y2":{"field":"p2"}}},
{"data":{"values":[{"d":"2019-03-11","p1":66.23,"p2":65.34,"w":"b"}]},"mark":{"type":"bar","width":85,"xOffset":2.5,"color":"#5a5a5a"},
"encoding":{"y":{"field":"p1","type":"quantitative","title":null,"scale":{"domain":[49.36,67.51],"nice":false,"zero":false}},"y2":{"field":"p2"}}},
{"data":{"values":[{"d":"2019-02-27","p1":67.38,"p2":66.49,"k":"a"},{"d":"2019-02-27","p1":66.23,"p2":65.34,"k":"b"}]},"mark":{"type":"bar","width":3,"xOffset":1.5},
"encoding":{"y":{"field":"p1","type":"quantitative","title":null,"scale":{"domain":[49.36,67.51],"nice":false,"zero":false}},"y2":{"field":"p2"},
"color":{"field":"k","type":"nominal","legend":null,"scale":{"domain":["a","b"],"range":["#2f8566","#1f3fd8"]}}}},
{"data":{"values":[{"d":"2019-03-01","p":66.94,"t":"WTI"},{"d":"2019-03-01","p":65.79,"t":"EMA (10,0)"}]},"mark":{"type":"text","align":"left","baseline":"middle","dx":3,"fontSize":11.5,"fontWeight":"bold","color":"#ffffff"},
"encoding":{"y":{"field":"p","type":"quantitative","title":null,"scale":{"domain":[49.36,67.51],"nice":false,"zero":false}},"text":{"field":"t"}}},
{"data":{"values":[{"p":58.96}]},"mark":{"type":"rule","strokeWidth":15,"strokeCap":"butt","color":"#2a4a6d","xOffset":4,"x2Offset":39},
"encoding":{"x":{"value":"width"},"x2":{"value":"width"},"y":{"field":"p","type":"quantitative","title":null,"scale":{"domain":[49.36,67.51],"nice":false,"zero":false}}}},
{"data":{"values":[{"p":58.96}]},"mark":{"type":"point","shape":"triangle-left","filled":true,"size":40,"opacity":1,"color":"#2a4a6d","xOffset":2.5},
"encoding":{"x":{"value":"width"},"y":{"field":"p","type":"quantitative","title":null,"scale":{"domain":[49.36,67.51],"nice":false,"zero":false}}}},
{"data":{"values":[{"p":58.96,"t":"58.96"}]},"mark":{"type":"text","align":"center","baseline":"middle","dx":21.5,"fontSize":11,"fontWeight":"bold","color":"#ffffff"},
"encoding":{"x":{"value":"width"},"y":{"field":"p","type":"quantitative","title":null,"scale":{"domain":[49.36,67.51],"nice":false,"zero":false}},"text":{"field":"t"}}}
]
},
{
"width":1148,"height":65,
"encoding":{"x":{"field":"d","type":"ordinal","title":null,
"scale":{"paddingInner":0.4,"paddingOuter":0.5,"domain":["2019-02-27","2019-02-28","2019-03-01","2019-03-04","2019-03-05","2019-03-06","2019-03-07","2019-03-08","2019-03-11","2019-03-12","2019-03-13","2019-03-14","2019-03-15","2019-03-18","2019-03-19","2019-03-20","2019-03-21","2019-03-22","2019-03-25","2019-03-26","2019-03-27","2019-03-28","2019-03-29","2019-04-01","2019-04-02","2019-04-03","2019-04-04","2019-04-05","2019-04-08","2019-04-09","2019-04-10","2019-04-11","2019-04-12","2019-04-15","2019-04-16","2019-04-17","2019-04-18","2019-04-19","2019-04-22","2019-04-23","2019-04-24","2019-04-25","2019-04-26","2019-04-29","2019-04-30","2019-05-01","2019-05-02","2019-05-03","2019-05-06","2019-05-07","2019-05-08","2019-05-09","2019-05-10","2019-05-13","2019-05-14","2019-05-15","2019-05-16","2019-05-17","2019-05-20","2019-05-21","2019-05-22","2019-05-23","2019-05-24","2019-05-27","2019-05-28","2019-05-29","2019-05-30","2019-05-31","2019-06-03","2019-06-04","2019-06-05","2019-06-06","2019-06-07","2019-06-10","2019-06-11","2019-06-12","2019-06-13","2019-06-14","2019-06-17","2019-06-18","2019-06-19","2019-06-20","2019-06-21","2019-06-24","2019-06-25","2019-06-26","2019-06-27","2019-06-28","2019-07-01","2019-07-02","2019-07-03","2019-07-04","2019-07-05","2019-07-08","2019-07-09","2019-07-10","2019-07-11","2019-07-12","2019-07-15","2019-07-16","2019-07-17","2019-07-18","2019-07-19","2019-07-22","2019-07-23","2019-07-24","2019-07-25","2019-07-26","2019-07-29","2019-07-30","2019-07-31","2019-08-01","2019-08-02","2019-08-05","2019-08-06","2019-08-07","2019-08-08","2019-08-09","2019-08-12","2019-08-13","2019-08-14","2019-08-15","2019-08-16","2019-08-19","2019-08-20","2019-08-21","2019-08-22","2019-08-23","2019-08-26","2019-08-27","2019-08-28","2019-08-29","2019-08-30","2019-09-02","2019-09-03","2019-09-04","2019-09-05","2019-09-06","2019-09-09","2019-09-10","2019-09-11","2019-09-12","2019-09-13","2019-09-16","2019-09-17","2019-09-18","2019-09-19","2019-09-20","2019-09-23","2019-09-24","2019-09-25","2019-09-26","2019-09-27","2019-09-30","2019-10-01","2019-10-02","2019-10-03","2019-10-04","2019-10-07","2019-10-08","2019-10-09","2019-10-10","2019-10-11","2019-10-14","2019-10-15","2019-10-16","2019-10-17","2019-10-18","2019-10-21","2019-10-22","2019-10-23","2019-10-24","2019-10-25","2019-10-28","2019-10-29","2019-10-30","2019-10-31","2019-11-01","2019-11-04","2019-11-05","2019-11-06","2019-11-07","2019-11-08","2019-11-11","2019-11-12","2019-11-13","2019-11-14","2019-11-15","2019-11-18","2019-11-19","2019-11-20","2019-11-21","2019-11-22","2019-11-25","2019-11-26","2019-11-27","2019-11-28","2019-11-29","2019-12-02","2019-12-03","2019-12-04","2019-12-05","2019-12-06","2019-12-09","2019-12-10","2019-12-11","2019-12-12","2019-12-13","2019-12-16","2019-12-17","2019-12-18","2019-12-19","2019-12-20","2019-12-23","2019-12-24","2019-12-25","2019-12-26","2019-12-27","2019-12-30","2019-12-31","2020-01-01","2020-01-02","2020-01-03","2020-01-06","2020-01-07","2020-01-08","2020-01-09","2020-01-10","2020-01-13"]},
"axis":{"values":["2019-03-01","2019-03-11","2019-03-19","2019-04-01","2019-04-09","2019-04-17","2019-05-01","2019-05-09","2019-05-17","2019-05-27","2019-06-03","2019-06-11","2019-06-19","2019-07-01","2019-07-09","2019-07-17","2019-07-25","2019-08-01","2019-08-09","2019-08-19","2019-09-02","2019-09-10","2019-09-18","2019-10-01","2019-10-09","2019-10-17","2019-10-25","2019-11-01","2019-11-11","2019-11-19","2019-12-02","2019-12-10","2019-12-18","2019-12-26","2020-01-01","2020-01-09"],
"labelExpr":"toNumber(slice(datum.value, 8)) <= 3 ? ['Jan','Feb','Mar','Apr','May','Jun','Jul','Aug','Sep','Oct','Nov','Dec'][toNumber(slice(datum.value, 5, 7)) - 1] : '' + toNumber(slice(datum.value, 8))",
"labelAngle":0,"labelOverlap":false,"labelFontSize":12,"labelColor":"#555555","labelPadding":1,"tickSize":4,"tickColor":"#9a9a9a","domainColor":"#c8ccd3","grid":false,"title":null}}},
"layer":[
{"data":{"name":"months"},"mark":{"type":"rule","color":"#e4e6ea","strokeWidth":1},"encoding":{}},
{"data":{"name":"p"},"mark":{"type":"bar","size":2},
"encoding":{"y":{"field":"hi","type":"quantitative","title":null,"scale":{"domain":[-2.78,1.98],"nice":false,"zero":false},
"axis":{"orient":"right","values":[0,-2],"tickCount":5,"labelExpr":"datum.value == 0 ? '-0.00' : format(datum.value, '.2f')","labelOverlap":false,"grid":true,"gridColor":"#e2e4e8","tickSize":4,"tickColor":"#9a9a9a","labelPadding":3,"labelFontSize":11,"labelColor":"#555555","domainColor":"#c8ccd3","title":null}},
"y2":{"datum":0},
"color":{"condition":{"test":"datum.hi >= 0","value":"#39e039"},"value":"#f01e1e"}}},
{"data":{"values":[{"v":0}]},"mark":{"type":"rule","color":"#c2c4c8","strokeWidth":1},
"encoding":{"x":{"value":0},"x2":{"value":"width"},"y":{"field":"v","type":"quantitative","title":null,"scale":{"domain":[-2.78,1.98],"nice":false,"zero":false}}}},
{"data":{"name":"p"},"mark":{"type":"line","strokeWidth":1,"color":"#2340d9"},
"encoding":{"y":{"field":"m","type":"quantitative","title":null,"scale":{"domain":[-2.78,1.98],"nice":false,"zero":false}}}},
{"data":{"name":"p"},"mark":{"type":"line","strokeWidth":1,"color":"#ff8a1c"},
"encoding":{"y":{"field":"s","type":"quantitative","title":null,"scale":{"domain":[-2.78,1.98],"nice":false,"zero":false}}}},
{"data":{"values":[{"d":"2019-03-14","v1":1.61,"v2":0.15}]},"mark":{"type":"bar","width":110,"color":"#5a5a5a"},
"encoding":{"y":{"field":"v1","type":"quantitative","title":null,"scale":{"domain":[-2.78,1.98],"nice":false,"zero":false}},"y2":{"field":"v2"}}},
{"data":{"values":[{"d":"2019-02-27","v1":1.61,"v2":0.15}]},"mark":{"type":"bar","width":3,"xOffset":1.5,"color":"#1f3fd8"},
"encoding":{"y":{"field":"v1","type":"quantitative","title":null,"scale":{"domain":[-2.78,1.98],"nice":false,"zero":false}},"y2":{"field":"v2"}}},
{"data":{"values":[{"d":"2019-03-01","v":0.88,"t":"MACD (12,26,9)"}]},"mark":{"type":"text","align":"left","baseline":"middle","dx":1,"fontSize":11,"color":"#ffffff"},
"encoding":{"y":{"field":"v","type":"quantitative","title":null,"scale":{"domain":[-2.78,1.98],"nice":false,"zero":false}},"text":{"field":"t"}}},
{"data":{"values":[{"d":"2019-08-06","v":1.98,"t":"≡"}]},"mark":{"type":"text","align":"center","baseline":"middle","dy":-5,"fontSize":15,"color":"#666666"},
"encoding":{"y":{"field":"v","type":"quantitative","title":null,"scale":{"domain":[-2.78,1.98],"nice":false,"zero":false}},"text":{"field":"t"}}}
]
}
]
}
